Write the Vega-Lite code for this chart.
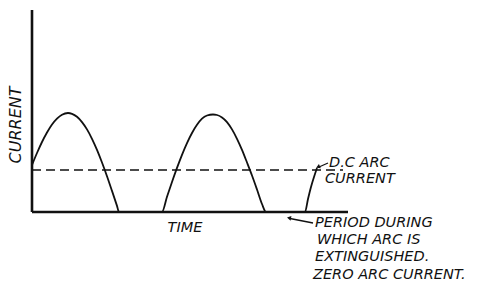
{
  "$schema": "https://vega.github.io/schema/vega-lite/v6.json",
  "width": 479,
  "height": 287,
  "autosize": {"type": "none"},
  "padding": 0,
  "background": "white",
  "config": {"view": {"stroke": null}},
  "datasets": {
    "curve": [
      {"t": 0, "i": 47}, {"t": 5, "i": 59}, {"t": 10, "i": 70}, {"t": 15, "i": 79.5}, {"t": 20, "i": 87.5},
      {"t": 25, "i": 93.4}, {"t": 30, "i": 97.3}, {"t": 36, "i": 99}, {"t": 40, "i": 98.2}, {"t": 45, "i": 95.2},
      {"t": 50, "i": 89.9}, {"t": 55, "i": 82.6}, {"t": 60, "i": 73.2}, {"t": 65, "i": 62.1}, {"t": 70, "i": 49.5},
      {"t": 75, "i": 35.8}, {"t": 80, "i": 21.1}, {"t": 85, "i": 6.1}, {"t": 87, "i": 0},
      {"t": 130, "i": 0},
      {"t": 135, "i": 15.2}, {"t": 140, "i": 30}, {"t": 145, "i": 44.1}, {"t": 150, "i": 57.2}, {"t": 155, "i": 68.9},
      {"t": 160, "i": 79}, {"t": 165, "i": 87.2}, {"t": 170, "i": 93.4}, {"t": 175, "i": 96.5}, {"t": 181, "i": 97.5},
      {"t": 185, "i": 97}, {"t": 190, "i": 94.5}, {"t": 195, "i": 89.9}, {"t": 200, "i": 82.6}, {"t": 205, "i": 73.2},
      {"t": 210, "i": 62.1}, {"t": 215, "i": 49.5}, {"t": 220, "i": 36.5}, {"t": 225, "i": 22.5}, {"t": 230, "i": 8},
      {"t": 234, "i": 0},
      {"t": 273, "i": 0},
      {"t": 276, "i": 13}, {"t": 279, "i": 25}, {"t": 282, "i": 35}, {"t": 285, "i": 44}
    ],
    "axes": [
      {"t": 0, "i": 0, "t2": 0, "i2": 202},
      {"t": 0, "i": 0, "t2": 316, "i2": 0}
    ],
    "dc": [
      {"t": 0, "i": 42, "t2": 311, "i2": 42}
    ],
    "arrows": [
      {"t": 281, "i": -11, "t2": 258, "i2": -6.5},
      {"t": 296, "i": 49, "t2": 287, "i2": 45}
    ],
    "headPeriod": [{"t": 257, "i": -6}],
    "headDc": [{"t": 286, "i": 45}],
    "leftLabels": [
      {"t": 297, "i": 49, "text": "D.C ARC"},
      {"t": 293, "i": 33, "text": "CURRENT"},
      {"t": 283, "i": -11, "text": "PERIOD DURING"},
      {"t": 285, "i": -28, "text": "WHICH ARC IS"},
      {"t": 283, "i": -45, "text": "EXTINGUISHED."},
      {"t": 281, "i": -63, "text": "ZERO ARC CURRENT."}
    ],
    "timeLabel": [{"t": 153, "i": -16, "text": "TIME"}],
    "currentLabel": [{"t": -16, "i": 87, "text": "CURRENT"}]
  },
  "encoding": {
    "x": {"field": "t", "type": "quantitative", "scale": {"domain": [-32, 447], "nice": false, "zero": false}, "axis": null},
    "y": {"field": "i", "type": "quantitative", "scale": {"domain": [-75, 212], "nice": false, "zero": false}, "axis": null}
  },
  "layer": [
    {
      "data": {"name": "dc"},
      "mark": {"type": "rule", "stroke": "#111", "strokeWidth": 1.7, "strokeDash": [9, 5]},
      "encoding": {"x2": {"field": "t2"}, "y2": {"field": "i2"}}
    },
    {
      "data": {"name": "curve"},
      "mark": {"type": "line", "stroke": "#111", "strokeWidth": 1.8, "interpolate": "monotone"}
    },
    {
      "data": {"name": "axes"},
      "mark": {"type": "rule", "stroke": "#111", "strokeWidth": 2.6},
      "encoding": {"x2": {"field": "t2"}, "y2": {"field": "i2"}}
    },
    {
      "data": {"name": "arrows"},
      "mark": {"type": "rule", "stroke": "#111", "strokeWidth": 1.3},
      "encoding": {"x2": {"field": "t2"}, "y2": {"field": "i2"}}
    },
    {
      "data": {"name": "headPeriod"},
      "mark": {"type": "point", "shape": "triangle-left", "filled": true, "color": "#111", "size": 22, "angle": 11, "opacity": 1}
    },
    {
      "data": {"name": "headDc"},
      "mark": {"type": "point", "shape": "triangle-left", "filled": true, "color": "#111", "size": 22, "angle": 336, "opacity": 1}
    },
    {
      "data": {"name": "leftLabels"},
      "mark": {"type": "text", "align": "left", "baseline": "middle", "font": "DejaVu Sans", "fontStyle": "italic", "fontSize": 14.5, "color": "#111"},
      "encoding": {"text": {"field": "text"}}
    },
    {
      "data": {"name": "timeLabel"},
      "mark": {"type": "text", "align": "center", "baseline": "middle", "font": "DejaVu Sans", "fontStyle": "italic", "fontSize": 14.5, "color": "#111"},
      "encoding": {"text": {"field": "text"}}
    },
    {
      "data": {"name": "currentLabel"},
      "mark": {"type": "text", "align": "center", "baseline": "middle", "angle": 270, "font": "DejaVu Sans", "fontStyle": "italic", "fontSize": 16, "color": "#111"},
      "encoding": {"text": {"field": "text"}}
    }
  ]
}
